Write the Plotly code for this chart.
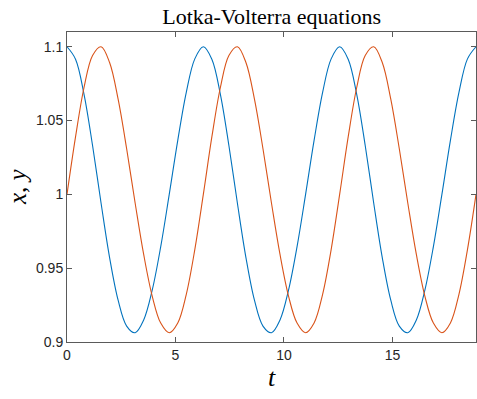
import plotly.graph_objects as go

# Time samples (t in steps of pi/8 over three cycles)
t = [0.000, 0.393, 0.785, 1.178, 1.571, 1.963, 2.356, 2.749, 3.142, 3.534, 3.927, 4.320,
     4.712, 5.105, 5.498, 5.890, 6.283, 6.676, 7.069, 7.461, 7.854, 8.247, 8.639, 9.032,
     9.425, 9.817, 10.210, 10.603, 10.996, 11.388, 11.781, 12.174, 12.566, 12.959, 13.352,
     13.744, 14.137, 14.530, 14.923, 15.315, 15.708, 16.101, 16.493, 16.886, 17.279, 17.671,
     18.064, 18.457, 18.850]

# Prey population x(t)
x_vals = [1.1000, 1.0916, 1.0678, 1.0331, 0.9940, 0.9572, 0.9283, 0.9108,
          0.9063, 0.9149, 0.9351, 0.9646, 1.0000, 1.0366, 1.0691, 1.0918,
          1.1000, 1.0916, 1.0678, 1.0331, 0.9940, 0.9572, 0.9283, 0.9108,
          0.9063, 0.9149, 0.9351, 0.9646, 1.0000, 1.0366, 1.0691, 1.0918,
          1.1000, 1.0916, 1.0678, 1.0331, 0.9940, 0.9572, 0.9283, 0.9108,
          0.9063, 0.9149, 0.9351, 0.9646, 1.0000, 1.0366, 1.0691, 1.0918,
          1.1000]

# Predator population y(t)
y_vals = [1.0000, 1.0389, 1.0724, 1.0941, 1.1000, 1.0893, 1.0645, 1.0309,
          0.9940, 0.9593, 0.9311, 0.9128, 0.9063, 0.9129, 0.9323, 0.9626,
          1.0000, 1.0389, 1.0724, 1.0941, 1.1000, 1.0893, 1.0645, 1.0309,
          0.9940, 0.9593, 0.9311, 0.9128, 0.9063, 0.9129, 0.9323, 0.9626,
          1.0000, 1.0389, 1.0724, 1.0941, 1.1000, 1.0893, 1.0645, 1.0309,
          0.9940, 0.9593, 0.9311, 0.9128, 0.9063, 0.9129, 0.9323, 0.9626,
          1.0000]

x_ticks = [0, 5, 10, 15]
y_ticks = [0.9, 0.95, 1.0, 1.05, 1.1]
y_tick_text = ["0.9", "0.95", "1", "1.05", "1.1"]

fig = go.Figure()
fig.add_trace(go.Scatter(x=t, y=x_vals, mode="lines",
                         line=dict(color="#0072BD", width=1.1, shape="spline", smoothing=1.0),
                         showlegend=False))
fig.add_trace(go.Scatter(x=t, y=y_vals, mode="lines",
                         line=dict(color="#D95319", width=1.1, shape="spline", smoothing=1.0),
                         showlegend=False))

axis_color = "#5a5a5a"
tick_font = dict(family="Liberation Sans, Arial, sans-serif", size=14, color="#262626")

fig.update_xaxes(range=[0, 18.85], tickvals=x_ticks, ticktext=[str(v) for v in x_ticks],
                 ticks="inside", ticklen=5, tickcolor=axis_color, tickwidth=1,
                 showline=True, linecolor=axis_color, linewidth=1, mirror="ticks",
                 showgrid=False, zeroline=False, tickfont=tick_font)
fig.update_yaxes(range=[0.9, 1.11], tickvals=y_ticks, ticktext=y_tick_text,
                 ticks="inside", ticklen=5, tickcolor=axis_color, tickwidth=1,
                 showline=True, linecolor=axis_color, linewidth=1, mirror="ticks",
                 showgrid=False, zeroline=False, tickfont=tick_font)

serif = "Liberation Serif, Times New Roman, serif"
fig.update_layout(
    width=477, height=399,
    margin=dict(l=67, r=1, t=32, b=57),
    paper_bgcolor="white", plot_bgcolor="white",
    title=dict(text="Lotka-Volterra equations", x=0.5695, xanchor="center",
               y=1 - 16 / 399, yanchor="middle",
               font=dict(family=serif, size=22, color="black")),
    annotations=[
        dict(text="<i>t</i>", xref="paper", yref="paper", x=0.5, y=-0.115,
             xanchor="center", yanchor="middle", showarrow=False,
             font=dict(family=serif, size=26, color="black")),
        dict(text="<i>x</i>, <i>y</i>", xref="paper", yref="paper", x=-0.122, y=0.5,
             xanchor="center", yanchor="middle", showarrow=False, textangle=-90,
             font=dict(family=serif, size=25, color="black")),
    ],
)

fig.write_html("out.html")
